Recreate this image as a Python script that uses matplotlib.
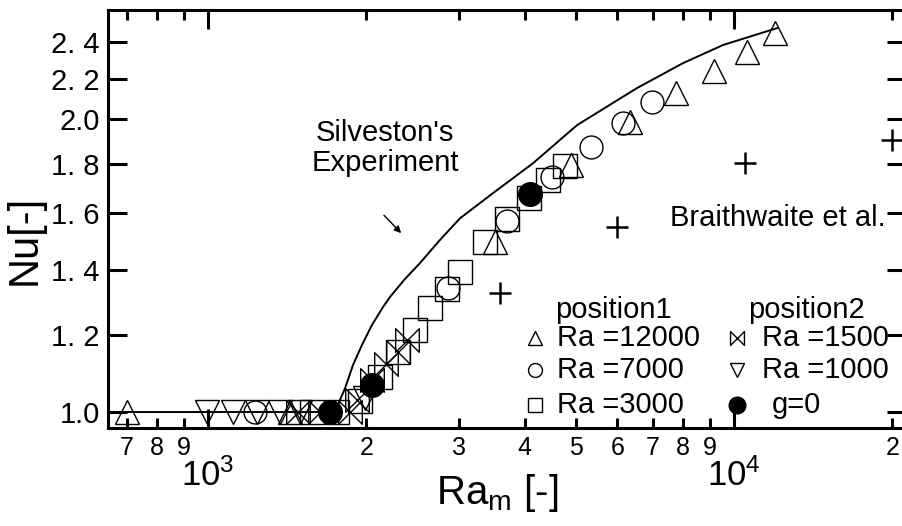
import matplotlib
matplotlib.use("Agg")
import matplotlib.pyplot as plt
from matplotlib.path import Path
from matplotlib.ticker import FixedLocator, FixedFormatter, NullLocator

plt.rcParams['font.family'] = 'Liberation Sans'
plt.rcParams['mathtext.fontset'] = 'custom'
plt.rcParams['mathtext.rm'] = 'Liberation Sans'
plt.rcParams['mathtext.it'] = 'Liberation Sans'

# --- data (Ra_m, Nu) ------------------------------------------------------
ra_12000 = [700, 1430, 3512, 4899, 6343, 7757, 9162, 10585, 11966]
nu_12000 = [1.0, 1.0, 1.495, 1.794, 1.987, 2.128, 2.241, 2.344, 2.452]

ra_7000 = [1228, 2859, 3702, 4508, 5348, 6151, 6986]
nu_7000 = [1.0, 1.341, 1.571, 1.744, 1.873, 1.982, 2.083]

ra_3000 = [1577, 1759, 1945, 2123, 2297, 2475, 2643, 2847, 3014, 3363, 3702, 4076, 4430, 4772]
nu_3000 = [1.0, 1.0, 1.026, 1.086, 1.152, 1.214, 1.279, 1.338, 1.393, 1.495, 1.579, 1.660, 1.731, 1.790]

ra_1500 = [1483, 1633, 1862, 1920, 2050, 2180, 2297, 2389]
nu_1500 = [1.0, 1.0, 1.0, 1.029, 1.079, 1.120, 1.152, 1.186]

ra_1000 = [996, 1116, 1239, 1370, 1496, 1988]
nu_1000 = [1.0, 1.0, 1.0, 1.0, 1.0, 1.034]

ra_g0 = [1706, 2050, 4094]
nu_g0 = [1.0, 1.066, 1.675]

ra_braith = [3590, 5992, 10493, 19970]
nu_braith = [1.325, 1.549, 1.802, 1.904]

ra_silv = [645, 1751, 1782, 1822, 1887, 1962, 2050, 2151, 2218, 2368, 2530, 2761,
           3014, 3482, 4148, 5030, 6540, 8000, 9530, 12070]
nu_silv = [1.0, 1.0, 1.029, 1.058, 1.118, 1.172, 1.229, 1.282, 1.313, 1.370, 1.423,
           1.503, 1.582, 1.679, 1.802, 1.972, 2.153, 2.284, 2.384, 2.481]

nu_ticks = [1.0, 1.2, 1.4, 1.6, 1.8, 2.0, 2.2, 2.4]
nu_labels = ['1.0', '1. 2', '1. 4', '1. 6', '1. 8', '2.0', '2. 2', '2. 4']
ra_major = [1e3, 1e4]
ra_major_labels = [r'$10^3$', r'$10^4$']
ra_minor = [700, 800, 900, 2000, 3000, 4000, 5000, 6000, 7000, 8000, 9000, 20000]
ra_minor_labels = ['7', '8', '9', '2', '3', '4', '5', '6', '7', '8', '9', '2']

# bowtie marker (two triangles tip to tip)
bowtie = Path([(-1, 1), (1, -1), (1, 1), (-1, -1), (-1, 1)],
              [Path.MOVETO, Path.LINETO, Path.LINETO, Path.LINETO, Path.CLOSEPOLY])

fig = plt.figure(figsize=(9.02, 5.26), dpi=100)
ax = fig.add_axes([108 / 902, 1 - 428 / 526, 798 / 902, 418 / 526])
ax.set_xscale('log')
ax.set_yscale('log')
ax.set_xlim(645.5, 21230)
ax.set_ylim(0.9629, 2.590)

ax.plot(ra_silv, nu_silv, color='black', lw=1.4)

mk = dict(ls='none', mfc='none', mec='black', mew=1.0)
ax.plot(ra_12000, nu_12000, marker='^', ms=17, **mk)
ax.plot(ra_7000, nu_7000, marker='o', ms=16.5, **mk)
ax.plot(ra_3000, nu_3000, marker='s', ms=17, **mk)
ax.plot(ra_1500, nu_1500, marker=bowtie, ms=17, **mk)
ax.plot(ra_1000, nu_1000, marker='v', ms=17, **mk)
ax.plot(ra_g0, nu_g0, ls='none', marker='o', ms=17, color='black')
ax.plot(ra_braith, nu_braith, ls='none', marker='+', ms=16, mew=1.8, color='black')

# annotations
ax.text(2170, 1.867, "Silveston's\nExperiment", fontsize=21, ha='center', va='center',
        linespacing=1.1)
ax.annotate('', xy=(2349, 1.520), xytext=(2142, 1.601),
            arrowprops=dict(arrowstyle='-|>', lw=1, color='black', mutation_scale=10))
ax.text(7554, 1.582, 'Braithwaite et al.', fontsize=21, ha='left', va='center')

# hand made legend (axes coordinates)
tr = ax.transAxes
ax.text(0.560, 0.282, 'position1', fontsize=21, transform=tr, va='center')
ax.text(0.802, 0.282, 'position2', fontsize=21, transform=tr, va='center')
rows = [0.2153, 0.1388, 0.055]
ax.plot(0.535, rows[0], marker='^', ms=10, transform=tr, **mk)
ax.plot(0.535, rows[1], marker='o', ms=10, transform=tr, **mk)
ax.plot(0.535, rows[2], marker='s', ms=10, transform=tr, **mk)
ax.plot(0.788, rows[0], marker=bowtie, ms=10, transform=tr, **mk)
ax.plot(0.788, rows[1], marker='v', ms=10, transform=tr, **mk)
ax.plot(0.788, rows[2], marker='o', ms=12, color='black', transform=tr, ls='none')
ax.text(0.5627, rows[0], 'Ra =12000', fontsize=21, transform=tr, va='center')
ax.text(0.5627, rows[1], 'Ra =7000', fontsize=21, transform=tr, va='center')
ax.text(0.5627, rows[2], 'Ra =3000', fontsize=21, transform=tr, va='center')
ax.text(0.8195, rows[0], 'Ra =1500', fontsize=21, transform=tr, va='center')
ax.text(0.8195, rows[1], 'Ra =1000', fontsize=21, transform=tr, va='center')
ax.text(0.832, rows[2], 'g=0', fontsize=21, transform=tr, va='center')

# axes, ticks
for s in ax.spines.values():
    s.set_linewidth(2.2)
ax.xaxis.set_major_locator(FixedLocator(ra_major))
ax.xaxis.set_major_formatter(FixedFormatter(ra_major_labels))
ax.xaxis.set_minor_locator(FixedLocator(ra_minor))
ax.xaxis.set_minor_formatter(FixedFormatter(ra_minor_labels))
ax.yaxis.set_major_locator(FixedLocator(nu_ticks))
ax.yaxis.set_major_formatter(FixedFormatter(nu_labels))
ax.yaxis.set_minor_locator(NullLocator())

ax.tick_params(which='both', direction='in', top=True, right=True, width=2.2)
ax.tick_params(axis='x', which='major', length=14, pad=22, labelsize=25)
ax.tick_params(axis='x', which='minor', length=7, pad=6, labelsize=18)
ax.tick_params(axis='y', which='major', length=14, pad=6, labelsize=21)

ax.set_xlabel(r'Ra$_{\mathrm{m}}$ [-]', fontsize=29, va='top')
ax.xaxis.set_label_coords(0.4875, -0.105)
ax.set_ylabel('Nu[-]', fontsize=30)
ax.yaxis.set_label_coords(-0.079, 0.45)

fig.savefig('out.png', dpi=100)
